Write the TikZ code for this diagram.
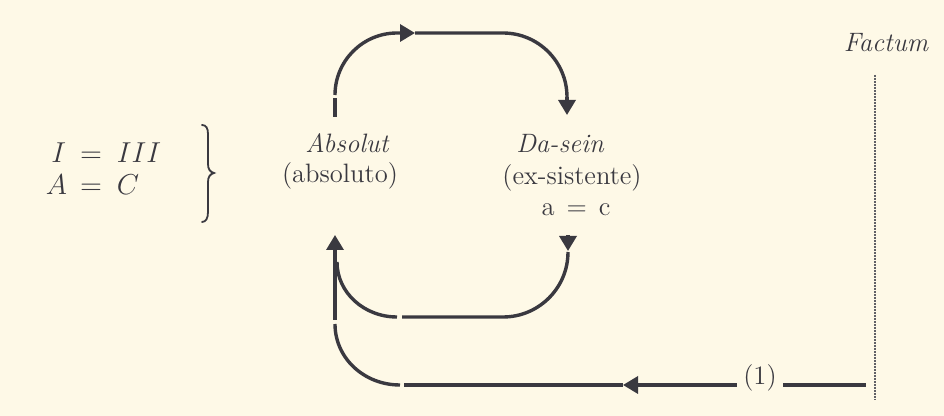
\documentclass[tikz,border=0pt]{standalone}
\usetikzlibrary{arrows.meta}
\definecolor{paper}{RGB}{254,249,231}
\definecolor{ink}{RGB}{58,57,64}
\begin{document}
\begin{tikzpicture}[x=0.5pt,y=-0.5pt,
  flow/.style={draw=ink,line width=1.7pt},
  arr/.style={flow,-{Triangle[length=7.5pt,width=8.5pt]}},
  lbl/.style={text=ink,inner sep=0pt,anchor=base,font=\fontsize{13.3}{15}\selectfont},
  bracestroke/.style={draw=ink,line width=0.9pt,line cap=round},
  dots/.style={draw=ink!80,line width=1pt,dash pattern=on 0.8pt off 0.7pt}]
\fill[paper] (0,0) rectangle (944,416);
\useasboundingbox (0,0) rectangle (944,416);
% texts
\node[lbl] (absolut) at (347,153) {\itshape Absolut};
\node[lbl] (absoluto) at (340,183) {(absoluto)};
\node[lbl] (dasein) at (560,153) {\itshape Da-sein};
\node[lbl] (exsist) at (572,185) {(ex-sistente)};
\node[lbl] (ac) at (576,216) {a\hspace{6pt}=\hspace{6pt}c};
\node[lbl] (factum) at (886,52) {\itshape Factum};
\node[lbl] (eq1) at (91,163) {\llap{$I$\hspace{7pt}}$=$\rlap{\hspace{7.5pt}$III$}};
\node[lbl] (eq2) at (91,195) {\llap{$A$\hspace{6.5pt}}$=$\rlap{\hspace{7.5pt}$C$}};
% brace, drawn as strokes
\coordinate (b0) at (202,125);
\coordinate (bm) at (214,173);
\coordinate (b1) at (202,222);
\draw[bracestroke] (b0) .. controls (206,125) and (208,128) .. (208,134)
  -- (208,164) .. controls (208,169) and (210,172) .. (bm)
  .. controls (210,174) and (208,177) .. (208,182)
  -- (208,212) .. controls (208,218) and (206,222) .. (b1);
\node[lbl] (one) at (760,385) {(1)};
% named points
\coordinate (s0) at (335,117);
\coordinate (s1) at (335,98);
\coordinate (tl) at (335,95);
\coordinate (tt) at (397,33);
\coordinate (ta) at (415,33);
\coordinate (tr) at (503,33);
\coordinate (td) at (567,97);
\coordinate (tdt) at (567,115);
\coordinate (ib0) at (337,262);
\coordinate (ib1) at (397,317);
\coordinate (ib2) at (402,317);
\coordinate (ib3) at (503,317);
\coordinate (ib4) at (568,252);
\coordinate (iba) at (568,235.5);
\coordinate (iba2) at (568,251);
\coordinate (v0) at (335,320);
\coordinate (v1) at (335,235);
\coordinate (o0) at (335,324);
\coordinate (o1) at (400,385);
\coordinate (o2) at (404,385);
\coordinate (oa) at (623,385);
\coordinate (fe) at (866,385);
\coordinate (d0) at (875,75);
\coordinate (d1) at (875,400);
% top loop
\draw[flow] (s0) -- (s1);
\draw[arr] (tl) .. controls (335,60.8) and (362.8,33) .. (tt) -- (ta);
\draw[flow] (ta) -- (tr) .. controls (538.3,33) and (567,61.7) .. (td);
\draw[arr] (td) -- (tdt);
% inner bottom loop
\draw[flow] (ib0) .. controls (337,292.4) and (363.9,317) .. (ib1);
\draw[flow] (ib2) -- (ib3) .. controls (538.9,317) and (568,287.9) .. (ib4);
\draw[arr] (iba) -- (iba2);
% up arrow into Absolut
\draw[arr] (v0) -- (v1);
% outer loop from Factum
\draw[flow] (o0) .. controls (335,358.2) and (364.1,385) .. (o1);
\draw[flow] (o2) -- (oa);
\draw[arr] ([xshift=-3pt]one.west |- oa) -- (oa);
\draw[flow] ([xshift=3pt]one.east |- fe) -- (fe);
% dotted Factum line
\draw[dots] (d0) -- (d1);
\end{tikzpicture}
\end{document}
